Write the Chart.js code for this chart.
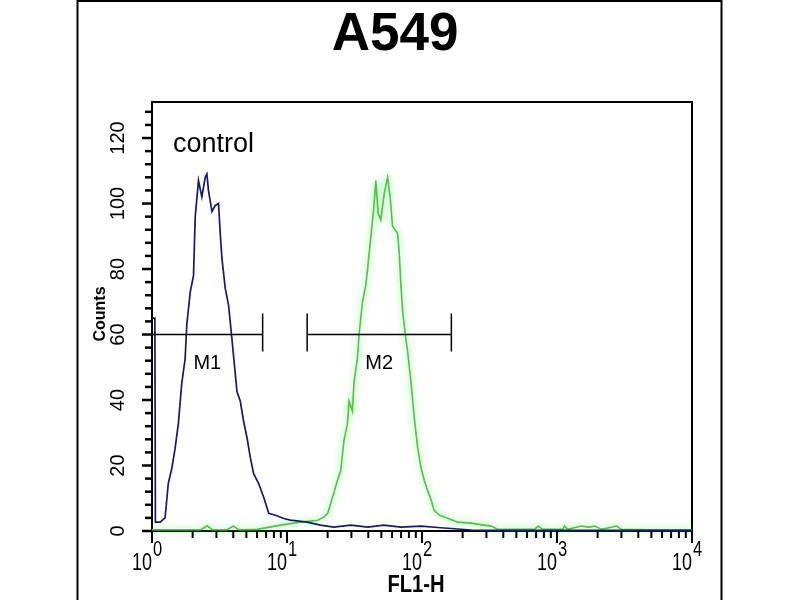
<!DOCTYPE html>
<html>
<head>
<meta charset="utf-8">
<script src="https://cdn.jsdelivr.net/npm/chart.js@4"></script>
<style>
  html, body { margin: 0; padding: 0; background: #fff; }
  #wrap { width: 800px; height: 600px; }
</style>
</head>
<body>
<div id="wrap"><canvas id="flowChart" width="800" height="600"></canvas></div>
<script>
// Histogram data (FL1-H value, counts)
const controlX = [1, 1.05, 1.06, 1.15, 1.25, 1.32, 1.40, 1.48, 1.57, 1.66, 1.76, 1.81, 1.92, 2.03, 2.09, 2.21, 2.34, 2.48, 2.55, 2.62, 2.78, 2.94, 3.11, 3.20, 3.30, 3.49, 3.69, 3.91, 4.26, 4.51, 4.77, 5.06, 5.35, 5.66, 6.17, 6.72, 7.32, 8.21, 9.47, 10.6, 14.1, 17.7, 22.2, 29.7, 39.7, 52.1, 69.8, 98.4, 138, 231, 500, 1000, 10000];
const controlY = [65, 65, 2.7, 2.7, 4, 14.5, 19, 25, 33, 45, 52.6, 63, 73, 78, 96, 107, 102, 108, 109, 104, 97.6, 99.4, 100, 91, 83, 74, 69, 58.6, 42.6, 39.6, 33.5, 28.4, 22.4, 17.5, 14.5, 10.3, 5.4, 4.8, 3.8, 3.3, 2.7, 1.8, 1.2, 1.8, 1.2, 1.8, 1.2, 1.5, 1, 0.3, 0.2, 0.2, 0.2];

const sampleX = [1, 1.5, 2.3, 2.56, 2.8, 3.6, 4.0, 4.4, 6, 8.95, 12.6, 16.9, 18.8, 20.0, 21.1, 22.2, 23.6, 25.0, 26.4, 28.0, 28.8, 30.5, 31.4, 33.2, 34.2, 36.2, 38.3, 39.5, 41.8, 43.0, 44.2, 45.5, 47.3, 49.5, 52.5, 55.6, 58.1, 60.5, 65.9, 67.8, 69.8, 71.9, 76.0, 78.3, 82.8, 87.7, 92.9, 98.4, 104, 110, 117, 123, 135, 155, 184, 231, 289, 326, 360, 458, 680, 728, 780, 1100, 1137, 1200, 1521, 1715, 1900, 2140, 2768, 3000, 5000, 10000];
const sampleY = [0.4, 0.4, 0.4, 1.6, 0.4, 0.4, 1.5, 0.4, 0.5, 1.8, 2.7, 3.3, 4.3, 5.4, 8.5, 11.5, 15.4, 18.4, 27.5, 32.6, 39.6, 36.6, 45.6, 52.6, 60, 69.8, 75, 79.8, 90, 94.9, 100, 107, 97, 95, 103, 108, 102, 93, 91, 85, 75, 67, 58.6, 54.7, 45.6, 34.4, 25.4, 19.3, 15.4, 12.4, 9.4, 6.3, 4.8, 3.9, 2.7, 2.4, 1.8, 1.5, 0.6, 0.5, 0.5, 1.5, 0.5, 0.5, 1.5, 0.5, 1.5, 1.2, 1.5, 0.5, 1.5, 0.5, 0.4, 0.4];

// Marker gates
const markerNames = ['M1', 'M2'];
const markerStart = [1, 14.1];
const markerEnd = [6.6, 165];
const markerLevel = 60;

// Axis ticks
const yTickValues = [0, 20, 40, 60, 80, 100, 120];
const xDecades = [1, 10, 100, 1000, 10000];
const xExponents = ['0', '1', '2', '3', '4'];

const titleText = 'A549';
const controlLabel = 'control';

function toPoints(xs, ys) {
    return xs.map((x, i) => ({ x: x, y: ys[i] }));
}

// draw text with optional horizontal squeeze (sx) and rotation
function putText(ctx, text, x, y, font, align, sx, rot) {
    ctx.save();
    ctx.translate(x, y);
    if (rot) ctx.rotate(rot);
    ctx.scale(sx || 1, 1);
    ctx.font = font;
    ctx.textAlign = align || 'left';
    ctx.textBaseline = 'alphabetic';
    ctx.fillStyle = '#000';
    ctx.fillText(text, 0, 0);
    ctx.restore();
}

const flowDecor = {
    id: 'flowDecor',
    beforeDatasetsDraw(chart) {
        const { ctx, chartArea: a } = chart;
        ctx.save();
        ctx.strokeStyle = '#000';
        ctx.lineWidth = 2;
        ctx.strokeRect(a.left, a.top, a.right - a.left, a.bottom - a.top);
        ctx.restore();
    },
    beforeDatasetDraw(chart, args) {
        if (args.index === 1) {
            chart.ctx.save();
            chart.ctx.shadowColor = 'rgba(100, 240, 90, 1)';
            chart.ctx.shadowBlur = 7;
        }
    },
    afterDatasetDraw(chart, args) {
        if (args.index === 1) chart.ctx.restore();
    },
    afterDraw(chart) {
        const { ctx, chartArea: a } = chart;
        const xs = chart.scales.x, ys = chart.scales.y;
        ctx.save();
        ctx.strokeStyle = '#000';

        // y ticks: minor every 4, major every 20
        ctx.lineWidth = 2.5;
        for (let v = 0; v <= 128; v += 4) {
            const py = ys.getPixelForValue(v);
            const len = v % 20 === 0 ? 10 : 7;
            ctx.beginPath();
            ctx.moveTo(a.left - len, py);
            ctx.lineTo(a.left, py);
            ctx.stroke();
        }
        yTickValues.forEach(v => {
            putText(ctx, String(v), a.left - 28, ys.getPixelForValue(v), '20px "Liberation Sans", Arial', 'center', 1, -Math.PI / 2);
        });

        // x ticks: log decades with 2..9 minors
        ctx.lineWidth = 2;
        xDecades.forEach((d, i) => {
            const px = xs.getPixelForValue(d);
            ctx.beginPath();
            ctx.moveTo(px, a.bottom);
            ctx.lineTo(px, a.bottom + 12);
            ctx.stroke();
            if (i < xDecades.length - 1) {
                for (let m = 2; m <= 9; m++) {
                    const mx = xs.getPixelForValue(d * m);
                    ctx.beginPath();
                    ctx.moveTo(mx, a.bottom);
                    ctx.lineTo(mx, a.bottom + 7);
                    ctx.stroke();
                }
            }
            putText(ctx, '10', px, 570, '24px "Liberation Sans", Arial', 'right', 0.75);
            putText(ctx, xExponents[i], px + 1, 556, '22px "Liberation Sans", Arial', 'left', 0.75);
        });

        // marker gates
        ctx.lineWidth = 1.5;
        const my = ys.getPixelForValue(markerLevel);
        markerNames.forEach((name, i) => {
            const x1 = xs.getPixelForValue(markerStart[i]);
            const x2 = xs.getPixelForValue(markerEnd[i]);
            ctx.beginPath();
            ctx.moveTo(x1, my); ctx.lineTo(x2, my);
            ctx.moveTo(x1, my - 21); ctx.lineTo(x1, my + 17);
            ctx.moveTo(x2, my - 21); ctx.lineTo(x2, my + 17);
            ctx.stroke();
            const mid = xs.getPixelForValue(Math.sqrt(markerStart[i] * markerEnd[i]));
            putText(ctx, name, mid, my + 34, '20px "Liberation Sans", Arial', 'center', 1);
        });

        // labels
        putText(ctx, controlLabel, 173, 152, '27px "Liberation Sans", Arial', 'left', 1);
        putText(ctx, titleText, 395, 50, 'bold 53px "Liberation Sans", Arial', 'center', 1);
        putText(ctx, 'Counts', 105, 314, 'bold 16px "Liberation Sans", Arial', 'center', 1, -Math.PI / 2);
        putText(ctx, 'FL1-H', 416, 592, 'bold 24px "Liberation Sans", Arial', 'center', 0.84);

        // outer frame
        ctx.lineWidth = 2;
        ctx.beginPath();
        ctx.moveTo(77.5, 605);
        ctx.lineTo(77.5, 1);
        ctx.lineTo(721.5, 1);
        ctx.lineTo(721.5, 605);
        ctx.stroke();
        ctx.restore();
    }
};

new Chart(document.getElementById('flowChart').getContext('2d'), {
    type: 'line',
    data: {
        datasets: [
            {
                label: 'control',
                data: toPoints(controlX, controlY),
                borderColor: '#181a66',
                borderWidth: 1.7,
                pointRadius: 0,
                tension: 0,
                fill: false
            },
            {
                label: 'A549',
                data: toPoints(sampleX, sampleY),
                borderColor: '#5aba55',
                borderWidth: 1.6,
                pointRadius: 0,
                tension: 0,
                fill: false
            }
        ]
    },
    options: {
        responsive: false,
        animation: false,
        clip: false,
        layout: { padding: { left: 152, right: 108, top: 102, bottom: 69 } },
        plugins: { legend: { display: false }, tooltip: { enabled: false }, title: { display: false } },
        scales: {
            x: { type: 'logarithmic', min: 1, max: 10000, display: false },
            y: { min: 0, max: 131, display: false }
        }
    },
    plugins: [flowDecor]
});
</script>
</body>
</html>
